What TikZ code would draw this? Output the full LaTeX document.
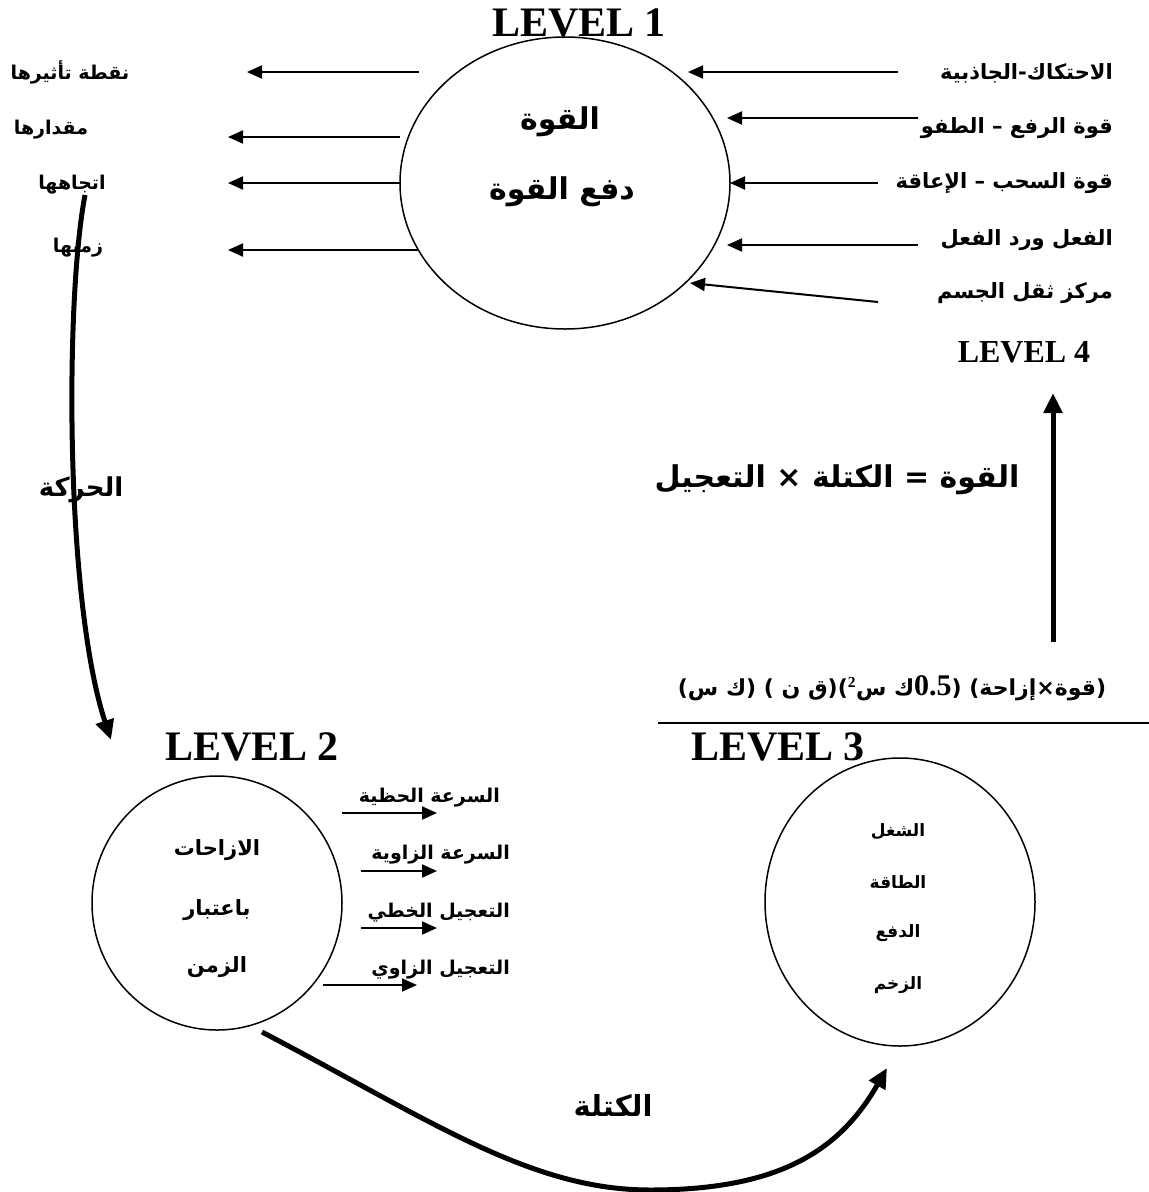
\documentclass[tikz,border=0pt]{standalone}
\usepackage{fontspec}
\setmainfont{Liberation Serif}
\newfontfamily\arabicfont[Script=Arabic]{DejaVu Sans}
\TeXXeTstate=1
\usetikzlibrary{arrows.meta,shapes.geometric}
\newcommand\artxt[1]{{\arabicfont\bfseries\beginR #1\endR}}

\begin{document}
\begin{tikzpicture}[x=1pt,y=-1pt,
  circ/.style={draw,ellipse,line width=1.5pt,inner sep=0pt},
  lvl/.style={font=\fontsize{42}{48}\selectfont\bfseries,inner sep=0pt},
  lab/.style={font=\fontsize{19}{22}\selectfont,inner sep=0pt},
  arr/.style={line width=2pt,-{Triangle[length=15pt,width=13pt]}},
  bigarr/.style={line width=5pt,-{Triangle[length=20pt,width=18pt]}}]
  \useasboundingbox (0,0) rectangle (1149,1192);
  \node[circ,minimum width=330pt,minimum height=292pt] (level1) at (565,183) {};
  \node[circ,minimum width=250pt,minimum height=254pt] (level2) at (217,903) {};
  \node[circ,minimum width=270pt,minimum height=288pt] (level3) at (900,902) {};
  \node[lvl] (t1) at (579,23) {LEVEL 1};
  \node[lvl] (t2) at (252,747) {LEVEL 2};
  \node[lvl] (t3) at (778,747) {LEVEL 3};
  \node[lvl,font=\fontsize{32}{36}\selectfont\bfseries] (t4) at (1024,352) {LEVEL 4};
  \node[lab,font=\fontsize{30}{34}\selectfont] (f1) at (560,122) {\artxt{القوة}};
  \node[lab,font=\fontsize{30}{34}\selectfont] (f2) at (562,192) {\artxt{دفع القوة}};
  \foreach \n/\y/\t in {k1/850/الازاحات,k2/910/باعتبار,k3/967/الزمن}
    \node[lab,font=\fontsize{21}{24}\selectfont] (\n) at (217,\y) {\artxt{\t}};
  \foreach \n/\y/\t in {e1/832/الشغل,e2/882/الطاقة,e3/933/الدفع,e4/985/الزخم}
    \node[lab,font=\fontsize{17}{20}\selectfont] (\n) at (898,\y) {\artxt{\t}};
  \foreach \n/\x/\y/\t in {l1/70/72/نقطة تأثيرها,l2/51/130/مقدارها,l3/72/185/اتجاهها,l4/78/248/زمنها}
    \node[lab] (\n) at (\x,\y) {\artxt{\t}};
  \foreach \n/\y/\t in {r1/73/الاحتكاك-الجاذبية,r2/128/قوة الرفع – الطفو,r3/183/قوة السحب – الإعاقة,r4/240/الفعل ورد الفعل,r5/293/مركز ثقل الجسم}
    \node[lab,anchor=east,font=\fontsize{21}{24}\selectfont] (\n) at (1113,\y) {\artxt{\t}};
  \foreach \n/\x/\y/\t in {s1/500/798/السرعة الحظية,s2/510/855/السرعة الزاوية,s3/510/913/التعجيل الخطي,s4/510/970/التعجيل الزاوي}
    \node[lab,anchor=east] (\n) at (\x,\y) {\artxt{\t}};
  \node[lab,font=\fontsize{30}{34}\selectfont] (law) at (837,480) {\artxt{القوة = الكتلة × التعجيل}};
  \node[lab,font=\fontsize{22}{26}\selectfont] (eqs) at (892,688) {\artxt{(قوة×إزاحة) ({\rmfamily\bfseries\fontsize{30}{34}\selectfont 0.5}ك س{\rmfamily\bfseries\textsuperscript{2}})(ق ن ) (ك س)}};
  \node[lab,font=\fontsize{26}{30}\selectfont] (move) at (81,490) {\artxt{الحركة}};
  \node[lab,font=\fontsize{29}{33}\selectfont] (mass) at (613,1105) {\artxt{الكتلة}};
  \foreach \i/\xs/\y/\xt in {1/419/72/247,2/400/137/228,3/400/183/228,4/418/250/228}{
    \coordinate (la\i) at (\xs,\y); \coordinate (lb\i) at (\xt,\y);
    \draw[arr] (la\i) -- (lb\i);}
  \foreach \i/\xs/\ys/\xt/\yt in {1/898/72/688/72,2/918/118/727/118,3/878/183/730/183,4/918/245/727/245,5/878/302/690/283}{
    \coordinate (ra\i) at (\xs,\ys); \coordinate (rb\i) at (\xt,\yt);
    \draw[arr] (ra\i) -- (rb\i);}
  \foreach \i/\xs/\y/\xt in {1/342/813/437,2/361/871/437,3/361/928/437,4/323/985/417}{
    \coordinate (sa\i) at (\xs,\y); \coordinate (sb\i) at (\xt,\y);
    \draw[arr] (sa\i) -- (sb\i);}
  \coordinate (hl1) at (658,723); \coordinate (hl2) at (1149,723);
  \draw[line width=2pt] (hl1) -- (hl2);
  \coordinate (up1) at (1053,642); \coordinate (up2) at (1053,393);
  \draw[bigarr] (up1) -- (up2);
  \coordinate (mv1) at (85,195); \coordinate (mv2) at (111,740);
  \draw[bigarr] (mv1) .. controls (65,300) and (65,600) .. (mv2);
  \coordinate (ms1) at (262,1032); \coordinate (ms2) at (650,1190); \coordinate (ms3) at (887,1068);
  \draw[line width=5pt] (ms1) .. controls (430,1120) and (530,1190) .. (ms2);
  \draw[bigarr] (ms2) .. controls (780,1190) and (840,1150) .. (ms3);
\end{tikzpicture}
\end{document}
